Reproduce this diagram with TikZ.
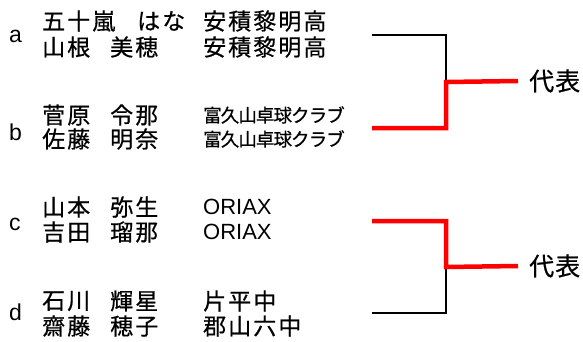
\documentclass[tikz,border=0pt]{standalone}
\usepackage{fontspec}
\newfontfamily\jpfont[LetterSpace=9, FakeBold=0.6]{Noto Sans CJK JP}
\newfontfamily\jpsmallfont[LetterSpace=-5, FakeBold=0.6]{Noto Sans CJK JP}
\newfontfamily\jprepfont[LetterSpace=4, FakeBold=0.6]{Noto Sans CJK JP}
\newfontfamily\latinfont{Liberation Sans}

\tikzset{
  player/.style={anchor=west, inner sep=0pt, font=\jpfont\fontsize{23}{24}\selectfont},
  club/.style={player},
  smallclub/.style={anchor=west, inner sep=0pt, font=\jpsmallfont\fontsize{18.5}{20}\selectfont},
  latinclub/.style={anchor=west, inner sep=0pt, font=\latinfont\fontsize{22}{24}\selectfont},
  pairkey/.style={anchor=base west, inner sep=0pt, font=\latinfont\fontsize{23}{24}\selectfont},
  rep/.style={anchor=west, inner xsep=11pt, inner ysep=0pt, font=\jprepfont\fontsize{25}{26}\selectfont},
  loser/.style={line width=2.4pt},
  winner/.style={red, line width=4.5pt}
}

\begin{document}
\begin{tikzpicture}[x=1pt, y=-1pt]
  \useasboundingbox (0,0) rectangle (583,342);

  % pair keys
  \node[pairkey] (ka) at (9,43) {a};
  \node[pairkey] (kb) at (9,140) {b};
  \node[pairkey] (kc) at (9,230) {c};
  \node[pairkey] (kd) at (9,320) {d};

  % pair a
  \node[player] (a1s) at (42,21) {五十嵐};
  \node[player] (a1g) at (137,21) {はな};
  \node[club] (a1c) at (203,21) {安積黎明高};
  \node[player] (a2s) at (42,47) {山根};
  \node[player] (a2g) at (110,47) {美穂};
  \node[club] (a2c) at (203,47) {安積黎明高};

  % pair b
  \node[player] (b1s) at (42,115) {菅原};
  \node[player] (b1g) at (110,115) {令那};
  \node[smallclub] (b1c) at (203,115) {富久山卓球クラブ};
  \node[player] (b2s) at (42,139) {佐藤};
  \node[player] (b2g) at (110,139) {明奈};
  \node[smallclub] (b2c) at (203,139) {富久山卓球クラブ};

  % pair c
  \node[player] (c1s) at (42,207) {山本};
  \node[player] (c1g) at (110,207) {弥生};
  \node[latinclub] (c1c) at (203,207) {ORIAX};
  \node[player] (c2s) at (42,232) {吉田};
  \node[player] (c2g) at (110,232) {瑠那};
  \node[latinclub] (c2c) at (203,232) {ORIAX};

  % pair d
  \node[player] (d1s) at (42,301) {石川};
  \node[player] (d1g) at (110,301) {輝星};
  \node[club] (d1c) at (203,301) {片平中};
  \node[player] (d2s) at (42,326) {齋藤};
  \node[player] (d2g) at (110,326) {穂子};
  \node[club] (d2c) at (203,326) {郡山六中};

  % bracket ends
  \coordinate (ea) at (372,35);
  \coordinate (eb) at (372,128);
  \coordinate (mab) at (446,82);
  \coordinate (ec) at (372,221);
  \coordinate (ed) at (372,313);
  \coordinate (mcd) at (446,267);
  \node[rep] (rab) at (518,81) {代表};
  \node[rep] (rcd) at (518,266) {代表};

  \draw[loser] (ea) -| (mab);
  \draw[winner] (eb) -| (mab) -- (rab.west);
  \draw[loser] (ed) -| (mcd);
  \draw[winner] (ec) -| (mcd) -- (rcd.west);
\end{tikzpicture}
\end{document}
